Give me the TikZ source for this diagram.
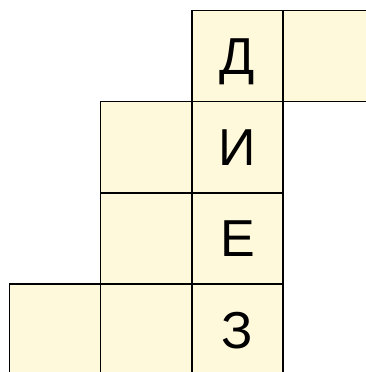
\documentclass[tikz,border=0pt]{standalone}
\usepackage{fontspec}
\setmainfont{Liberation Sans}
\definecolor{cellfill}{RGB}{255,249,220}
\begin{document}
\begin{tikzpicture}[x=1pt,y=-1pt,
  cell/.style={draw=black,line width=1.6pt,fill=cellfill,minimum width=91.2pt,minimum height=91.2pt,inner sep=0pt,anchor=north west,
    font=\fontsize{52}{52}\selectfont,text height=37pt,text depth=0pt}]
\useasboundingbox (0,0) rectangle (365,372);
\node[cell] (c20) at (191,9.5) {Д};
\node[cell] (c30) at (282.2,9.5) {};
\node[cell] (c11) at (99.8,100.7) {};
\node[cell] (c21) at (191,100.7) {И};
\node[cell] (c12) at (99.8,191.9) {};
\node[cell] (c22) at (191,191.9) {Е};
\node[cell] (c03) at (8.6,283.1) {};
\node[cell] (c13) at (99.8,283.1) {};
\node[cell] (c23) at (191,283.1) {З};
\end{tikzpicture}
\end{document}
